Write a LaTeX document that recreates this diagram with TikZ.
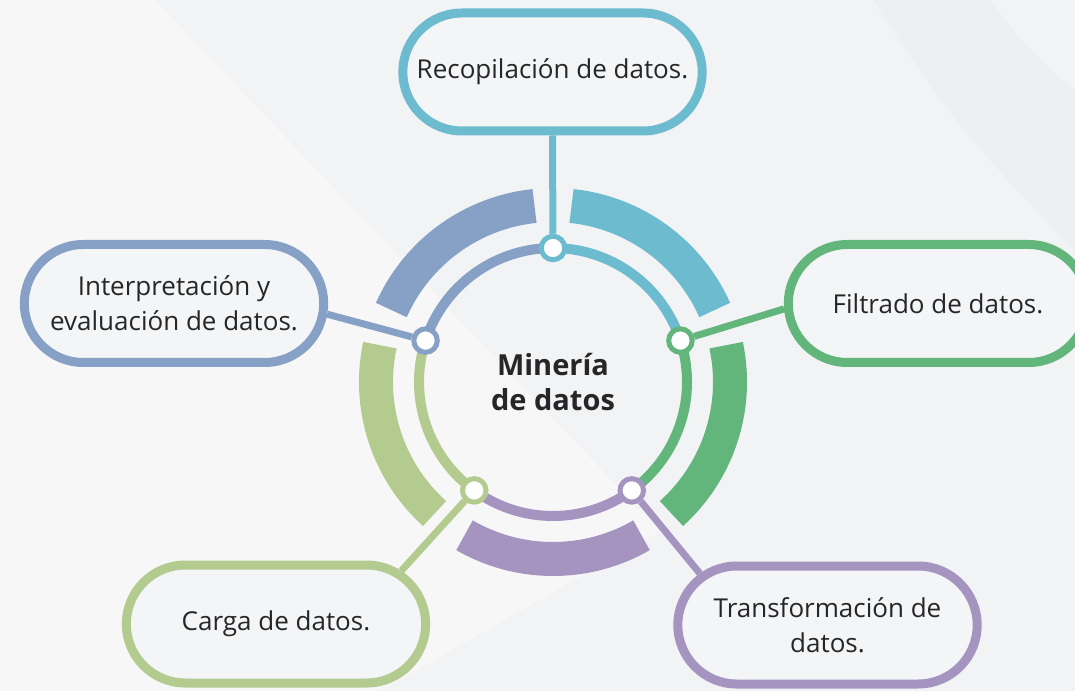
\documentclass[tikz,border=0pt]{standalone}
\usepackage{fontspec}
\setmainfont{Open Sans}
\usetikzlibrary{shapes.misc,positioning}

\definecolor{bgc}{HTML}{F2F3F5}
\definecolor{bgl}{HTML}{F7F7F8}
\definecolor{bgd}{HTML}{EEEFF1}
\definecolor{boxc}{HTML}{F4F5F7}
\definecolor{txt}{HTML}{262626}
\definecolor{cteal}{HTML}{6DBBCF}
\definecolor{cblue}{HTML}{86A0C6}
\definecolor{cgreen}{HTML}{62B57B}
\definecolor{clight}{HTML}{B3CB8F}
\definecolor{cpurple}{HTML}{A594C0}

\tikzset{
  box/.style={rounded rectangle, draw, line width=9pt, fill=boxc,
    minimum width=306pt, minimum height=118pt, align=center,
    text=txt, font=\fontsize{26}{35}\selectfont},
  dot/.style={circle, draw, line width=5pt, fill=white,
    minimum size=23.5pt, inner sep=0pt},
  spoke/.style={line width=7pt},
  band/.style={line width=34pt},
  ring/.style={line width=10pt},
}

\begin{document}
\begin{tikzpicture}[x=1pt,y=1pt]
  \fill[bgc] (0,0) rectangle (1075,691);
  \useasboundingbox (0,0) rectangle (1075,691);
  \fill[bgl] (0,691) -- (155,691) -- (660,160) -- (380,0) -- (0,0) -- cycle;
  \fill[bgd] (873,691) .. controls (960,560) .. (1075,440) -- (1075,691) -- cycle;
  \fill[bgc] (990,691) .. controls (1030,640) .. (1075,600) -- (1075,691) -- cycle;

  \coordinate (c) at (553,309);

  \node[box, draw=cteal] (reco) at (552.5,619) {Recopilación de datos.};
  \node[box, draw=cgreen] (filtr) at (938,387.5) {Filtrado de datos.};
  \node[box, draw=cpurple] (transf) at (827.5,66) {Transformación de\\datos.};
  \node[box, draw=clight] (carga) at (276,67) {Carga de datos.};
  \node[box, draw=cblue] (interp) at (174,387.5) {Interpretación y\\evaluación de datos.};

  \foreach \a/\col in {90/cteal,18/cgreen,-54/cpurple,-126/clight,162/cblue}{
    \draw[band,\col] ([shift={(\a-66:177)}]c) arc[start angle=\a-66, end angle=\a-6, radius=177];
    \draw[ring,\col] ([shift={(\a-72:134)}]c) arc[start angle=\a-72, end angle=\a, radius=134];
  }

  \node[dot, draw=cteal] (d1) at ([shift={(90:134)}]c) {};
  \node[dot, draw=cgreen] (d2) at ([shift={(18:134)}]c) {};
  \node[dot, draw=cpurple] (d3) at ([shift={(-54:134)}]c) {};
  \node[dot, draw=clight] (d4) at ([shift={(-126:134)}]c) {};
  \node[dot, draw=cblue] (d5) at ([shift={(162:134)}]c) {};

  \draw[spoke, cteal] (d1) -- (reco.south);
  \draw[spoke, cgreen] (d2) -- (filtr.182);
  \draw[spoke, cpurple] (d3) -- (transf.158);
  \draw[spoke, clight] (d4) -- (carga.23);
  \draw[spoke, cblue] (d5) -- (interp.-4);

  \node[align=center, text=txt, font=\bfseries\fontsize{29}{35}\selectfont] (title) at (c) {Minería\\de datos};
\end{tikzpicture}
\end{document}
